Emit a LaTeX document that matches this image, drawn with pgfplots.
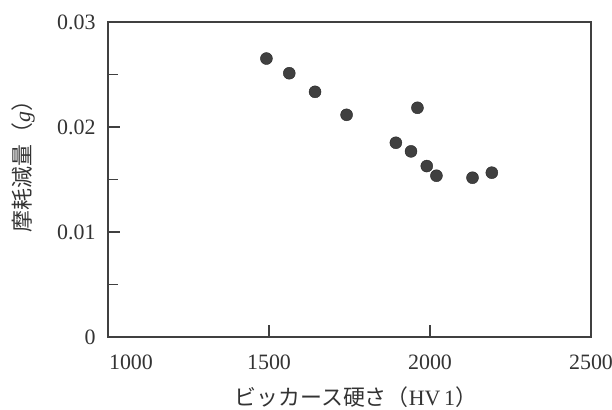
\documentclass[border=0pt]{standalone}
\usepackage{fontspec}
\setmainfont{Liberation Serif}
\newfontfamily\jp{Noto Sans CJK JP}
\usepackage{pgfplots}
\pgfplotsset{compat=1.18}
\begin{document}
\begin{tikzpicture}
\begin{axis}[
  name=ax,
  scale only axis,
  width=483bp, height=315bp,
  xmin=1000, xmax=2500, ymin=0, ymax=0.03,
  axis line style={black!75, line width=1.3bp},
  xtick={1000,1500,2000,2500},
  xticklabels={\hspace*{46bp}1000,1500,2000,2500},
  ytick={0,0.01,0.02,0.03},
  yticklabels={0,0.01,0.02,0.03},
  minor ytick={0.005,0.015,0.025},
  scaled y ticks=false,
  tick align=inside,
  xtick pos=bottom, ytick pos=left,
  major tick length=12bp, minor tick length=10bp,
  tick style={black!75, line width=1.1bp},
  /pgf/number format/assume math mode=true,
  ticklabel style={font=\fontsize{22}{26}\selectfont, text=black!80},
  xticklabel style={yshift=-14bp},
  yticklabel style={xshift=-9bp},
  clip=false,
]
\addplot[only marks, mark=*, mark size=6bp, draw=black!85, fill=black!75]
  coordinates {
    (1492,0.02652) (1563,0.02512) (1643,0.02335) (1741,0.02116)
    (1961,0.02183) (1894,0.01850) (1941,0.01768) (1990,0.01628)
    (2020,0.01536) (2132,0.01517) (2192,0.01565)
  };
\node[rotate=90, text=black!80, font=\fontsize{22}{26}\selectfont] at (axis description cs:-0.176,0.558)
  {{\jp 摩耗減量（}\textit{g}{\jp ）}};
\node[text=black!80, font=\fontsize{22}{26}\selectfont] at (axis description cs:0.513,-0.19)
  {{\jp ビッカース硬さ（}HV\,1{\jp ）}};
\end{axis}
\pgfresetboundingbox
\path[use as bounding box] ([shift={(-108bp,-73bp)}]ax.south west) rectangle ([shift={(21bp,22bp)}]ax.north east);
\end{tikzpicture}
\end{document}
